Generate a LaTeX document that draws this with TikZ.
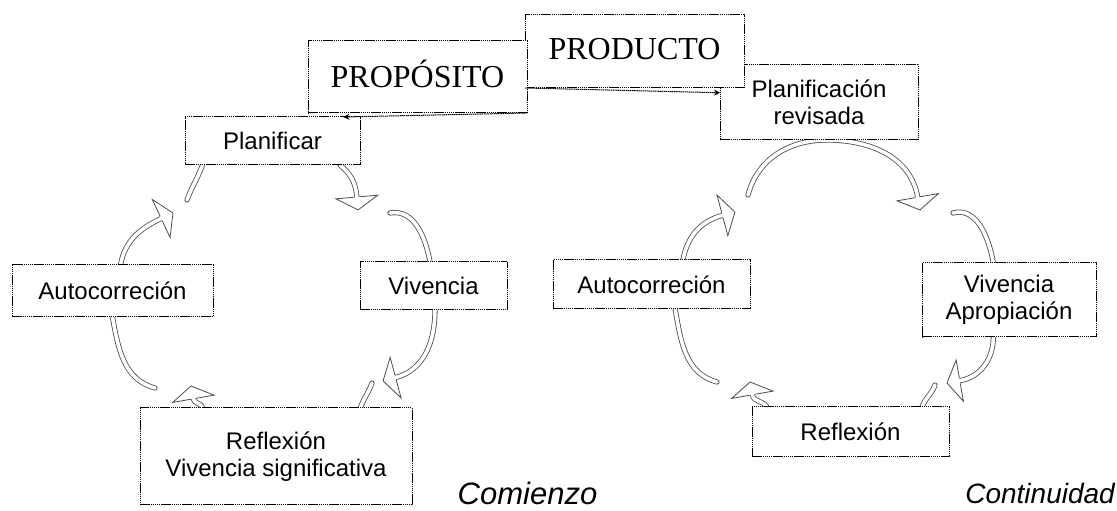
\documentclass[tikz,border=0pt]{standalone}
\usepackage{fontspec}
\setmainfont{Liberation Sans}
\newfontfamily\tnr{Liberation Serif}
\usetikzlibrary{calc,arrows.meta,backgrounds}
\tikzset{
  box/.style={draw=black, line width=1pt, dash pattern=on 1.5pt off 0.6pt, fill=white,
    inner sep=0pt, outer sep=0pt, align=center, font=\fontsize{24}{27}\selectfont},
  big/.style={box, font=\tnr\fontsize{32}{36}\selectfont},
  band/.style={draw=black!70, line width=0.8pt, double=white, double distance=3.6pt, line cap=round},
  headst/.style={draw=black!70, line width=0.8pt, fill=white, line join=miter},
  conn/.style={draw=black, line width=1pt, dash pattern=on 1.5pt off 0.6pt, -{Stealth[length=6pt,width=6pt]}},
  captxt/.style={font=\itshape\fontsize{31}{36}\selectfont, inner sep=0pt},
}
\newcommand{\bhd}[2]{\draw[headst, shift={(#1)}, rotate=#2] (0,2.6) -- (0,21) -- (13,0) -- (0,-21) -- (0,-2.6);}
\begin{document}
\begin{tikzpicture}[x=1pt,y=1pt]
\useasboundingbox (0,0) rectangle (1117,511);
% boxes
\node[box, minimum width=198pt, minimum height=75pt] (rev) at (819,408.5) {Planificación\\revisada};
\node[big, minimum width=219pt, minimum height=73pt] (prod) at (634.5,459.5) {\raisebox{6pt}{PRODUCTO}};
\node[big, minimum width=219pt, minimum height=72pt] (propos) at (417.5,434) {\raisebox{7pt}{PROPÓSITO}};
\node[box, minimum width=175pt, minimum height=48pt] (plan) at (272.5,370) {Planificar};
\node[box, minimum width=201pt, minimum height=52pt] (autoL) at (112.5,220) {Autocorreción};
\node[box, minimum width=147pt, minimum height=48pt] (vivL) at (433.5,225) {Vivencia};
\node[box, minimum width=272pt, minimum height=97pt] (refL) at (276,54.5) {Reflexión\\Vivencia significativa};
\node[box, minimum width=197pt, minimum height=49pt] (autoR) at (651.5,226.5) {Autocorreción};
\node[box, minimum width=174pt, minimum height=74pt] (vivR) at (1009,211) {Vivencia\\Apropiación};
\node[box, minimum width=197pt, minimum height=50pt] (refR) at (850.5,79) {Reflexión};
\node[captxt] (com) at (527.5,18) {Comienzo};
\node[captxt, font=\itshape\fontsize{28}{32}\selectfont, anchor=east] (cont) at (1115,17) {Continuidad};
% connectors between top boxes
\draw[conn] (propos.south east) -- ($(plan.north west)!0.905!(plan.north east)$);
\draw[conn] (prod.south west) -- ($(rev.north west)!0.37!(rev.south west)$);
\begin{pgfonlayer}{background}
% cycle 1
\coordinate (h1) at (161.2,292.5);
\draw[band] ($(autoL.north west)!0.54!(autoL.north east)$) to[out=80,in=205] (h1);
\bhd{h1}{25}
\coordinate (t2) at (187,311);
\draw[band] (t2) to[out=70,in=250] ($(plan.south west)!0.10!(plan.south east)$);
\coordinate (h3) at (356.9,314);
\draw[band] ($(plan.south west)!0.886!(plan.south east)$) to[out=-40,in=95] (h3);
\bhd{h3}{-85}
\coordinate (t4) at (390,298);
\draw[band] (t4) to[out=10,in=100] ($(vivL.north west)!0.476!(vivL.north east)$);
\coordinate (h5) at (395.6,133.4);
\draw[band] ($(vivL.south west)!0.51!(vivL.south east)$) to[out=-90,in=15] (h5);
\bhd{h5}{195}
\coordinate (t6) at (372,128);
\draw[band] (t6) to[out=-110,in=70] ($(refL.north west)!0.81!(refL.north east)$);
\coordinate (h7) at (193.3,112.2);
\draw[band] ($(refL.north west)!0.23!(refL.north east)$) to[out=100,in=280] (h7);
\bhd{h7}{100}
\coordinate (t8) at (155,123);
\draw[band] (t8) to[out=165,in=-80] ($(autoL.south west)!0.50!(autoL.south east)$);
% cycle 2
\coordinate (k1) at (722.4,295.6);
\draw[band] ($(autoR.north west)!0.66!(autoR.north east)$) to[out=80,in=195] (k1);
\bhd{k1}{15}
\coordinate (t9) at (748,316);
\coordinate (k2) at (917.7,313.8);
\draw[band] (t9) to[out=75,in=180] ($(rev.south west)!0.54!(rev.south east)$) to[out=0,in=100] (k2);
\bhd{k2}{-80}
\coordinate (t10) at (953,298);
\draw[band] (t10) to[out=15,in=100] ($(vivR.north west)!0.41!(vivR.north east)$);
\coordinate (k4) at (959.8,130.3);
\draw[band] ($(vivR.south west)!0.41!(vivR.south east)$) to[out=-90,in=10] (k4);
\bhd{k4}{190}
\coordinate (t11) at (935,126);
\draw[band] (t11) to[out=-110,in=70] ($(refR.north west)!0.863!(refR.north east)$);
\coordinate (k6) at (752.3,116.2);
\draw[band] ($(refR.north west)!0.076!(refR.north east)$) to[out=120,in=280] (k6);
\bhd{k6}{100}
\coordinate (t12) at (717,129);
\draw[band] (t12) to[out=165,in=-80] ($(autoR.south west)!0.62!(autoR.south east)$);
\end{pgfonlayer}
\end{tikzpicture}
\end{document}
